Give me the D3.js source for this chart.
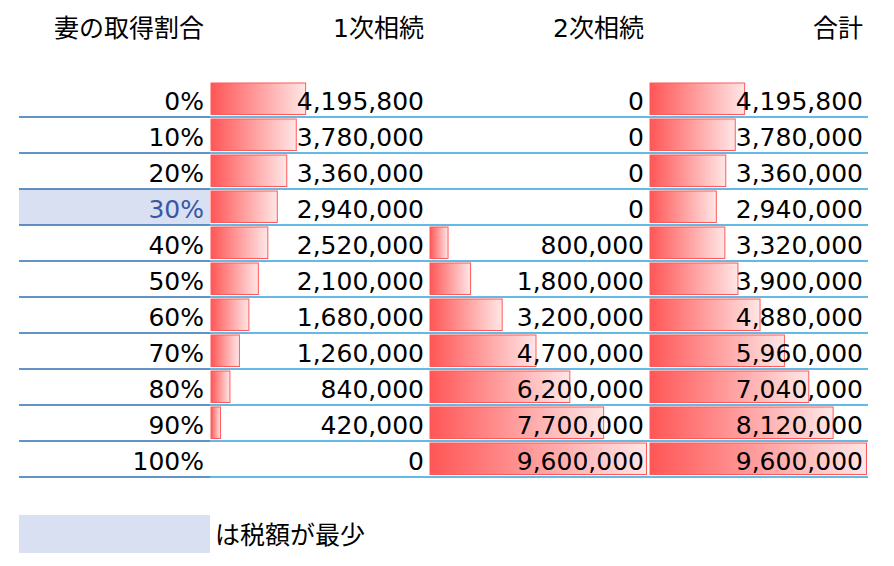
<!DOCTYPE html>
<html>
<head>
<meta charset="utf-8">
<script src="https://cdn.jsdelivr.net/npm/d3@7"></script>
<style>
  html, body { margin: 0; padding: 0; background: #fff; }
  svg text { font-family: "DejaVu Sans", "Noto Sans CJK JP", sans-serif; font-size: 25px; fill: #000; }
</style>
</head>
<body>
<svg width="894" height="566"></svg>
<script>
// データ
var headers = ["妻の取得割合", "1次相続", "2次相続", "合計"];
var ratios = ["0%", "10%", "20%", "30%", "40%", "50%", "60%", "70%", "80%", "90%", "100%"];
var firstTax = [4195800, 3780000, 3360000, 2940000, 2520000, 2100000, 1680000, 1260000, 840000, 420000, 0];
var secondTax = [0, 0, 0, 0, 800000, 1800000, 3200000, 4700000, 6200000, 7700000, 9600000];
var totalTax = [4195800, 3780000, 3360000, 2940000, 3320000, 3900000, 4880000, 5960000, 7040000, 8120000, 9600000];
var legendText = "は税額が最少";

// レイアウト
var colLeft = [19, 210, 430, 648];
var colRight = [210, 430, 648, 868];
var barStart = [null, 211, 430, 650];
var textRight = [204, 424, 644, 863];

var svg = d3.select("svg");
var fmt = d3.format(",");

var y = d3.scaleBand().domain(ratios).range([81, 477]).padding(0);
var barW = d3.scaleLinear().domain([0, d3.max(totalTax.concat(secondTax, firstTax))]).range([0, 216.5]);

var minIdx = d3.minIndex(totalTax);

var defs = svg.append("defs");
var grad = defs.append("linearGradient").attr("id", "bargrad")
    .attr("x1", "0%").attr("x2", "100%").attr("y1", "0%").attr("y2", "0%");
grad.append("stop").attr("offset", "0%").attr("stop-color", "#ff5656");
grad.append("stop").attr("offset", "100%").attr("stop-color", "#ffe6e6");

// 最少の行
svg.append("rect")
    .attr("x", colLeft[0]).attr("y", y(ratios[minIdx]))
    .attr("width", colRight[0] - colLeft[0]).attr("height", y.bandwidth())
    .attr("fill", "#d9e0f2");

// 見出し
svg.selectAll("text.header").data(headers).enter().append("text")
    .attr("class", "header")
    .attr("x", function(d, i) { return textRight[i]; })
    .attr("y", 37)
    .attr("text-anchor", "end")
    .text(function(d) { return d; });

// データバー
var series = [firstTax, secondTax, totalTax];
series.forEach(function(vals, s) {
    var c = s + 1;
    svg.selectAll("rect.bar" + c).data(vals).enter().filter(function(d) { return d > 0; })
        .append("rect")
        .attr("class", "bar" + c)
        .attr("x", barStart[c])
        .attr("y", function(d, i) { return y(ratios[vals.indexOf(d)]) + 2; })
        .attr("width", function(d) { return barW(d); })
        .attr("height", 31.5)
        .attr("fill", "url(#bargrad)")
        .attr("stroke", "#ff5a5a")
        .attr("stroke-width", 1);
});

// 罫線
svg.selectAll("line.rowA").data(ratios).enter().append("line")
    .attr("x1", colLeft[0]).attr("x2", colRight[0])
    .attr("y1", function(d) { return y(d) + y.bandwidth(); })
    .attr("y2", function(d) { return y(d) + y.bandwidth(); })
    .attr("stroke", "#2f6fb0").attr("stroke-width", 1.3);
svg.selectAll("line.rowB").data(ratios).enter().append("line")
    .attr("x1", colRight[0]).attr("x2", colRight[3])
    .attr("y1", function(d) { return y(d) + y.bandwidth(); })
    .attr("y2", function(d) { return y(d) + y.bandwidth(); })
    .attr("stroke", "#2ea3dc").attr("stroke-width", 1.3);

// 数値
svg.selectAll("text.ratio").data(ratios).enter().append("text")
    .attr("x", textRight[0])
    .attr("y", function(d) { return y(d) + 29; })
    .attr("text-anchor", "end")
    .style("fill", function(d, i) { return i === minIdx ? "#3858a4" : "#000"; })
    .text(function(d) { return d; });

series.forEach(function(vals, s) {
    var c = s + 1;
    svg.selectAll("text.val" + c).data(vals).enter().append("text")
        .attr("x", textRight[c])
        .attr("y", function(d, i) { return y(ratios[i]) + 29; })
        .attr("text-anchor", "end")
        .text(function(d) { return fmt(d); });
});

// 凡例
svg.append("rect")
    .attr("x", colLeft[0]).attr("y", 515)
    .attr("width", colRight[0] - colLeft[0]).attr("height", 38)
    .attr("fill", "#d9e0f2");
svg.append("text")
    .attr("x", 215).attr("y", 544)
    .text(legendText);
</script>
</body>
</html>
